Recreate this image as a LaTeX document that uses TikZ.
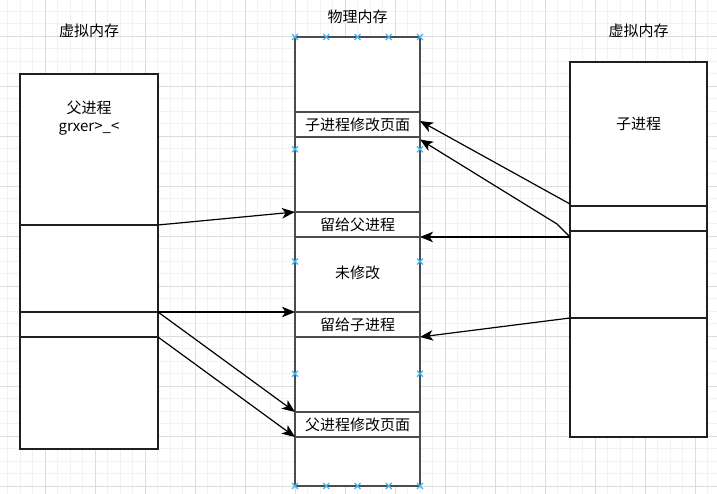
\documentclass[tikz,border=0pt]{standalone}
\usepackage{fontspec}
\setmainfont{Noto Sans CJK SC}
\usetikzlibrary{arrows.meta}
\definecolor{gridminor}{HTML}{F2F2F2}
\definecolor{gridmajor}{HTML}{DCDCDC}
\definecolor{markblue}{HTML}{3FB6EE}
\begin{document}
\begin{tikzpicture}[x=1pt,y=-1pt,
  box/.style={draw=black!88, fill=white, line width=1.1pt, inner sep=0pt, outer sep=0pt, rectangle},
  mbox/.style={draw=black!70, fill=white, line width=1.25pt, inner sep=0pt, outer sep=0pt, rectangle},
  lbl/.style={font=\fontsize{15}{18.5}\selectfont, inner sep=0pt},
  arr/.style={-{Stealth[length=13pt,width=10.5pt,inset=3.5pt]}, line width=1.2pt, draw=black},
  xm/.style={draw=markblue, line width=1.2pt}]
\useasboundingbox (0,0) rectangle (717,494);
\fill[white] (0,0) rectangle (717,494);
% grid
\foreach \i in {0,...,58} \draw[gridminor, line width=0.8pt] ({-5+12.5*\i},0) -- ({-5+12.5*\i},494);
\foreach \i in {0,...,40} \draw[gridminor, line width=0.8pt] (0,{-1.5+12.5*\i}) -- (717,{-1.5+12.5*\i});
\foreach \i in {0,...,15} \draw[gridmajor, line width=0.8pt] ({-5+50*\i},0) -- ({-5+50*\i},494);
\foreach \i in {0,...,10} \draw[gridmajor, line width=0.8pt] (0,{-14+50*\i}) -- (717,{-14+50*\i});

% titles
\node[lbl] (t1) at (89,31) {虚拟内存};
\node[lbl] (t2) at (357.5,17) {物理内存};
\node[lbl] (t3) at (638.5,31) {虚拟内存};

% left box
\node[box, minimum width=138pt, minimum height=375pt] (L) at (89,261.5) {};
\node[box, minimum width=138pt, minimum height=87pt] (LA) at (89,268.5) {};
\node[box, minimum width=138pt, minimum height=25pt] (LB) at (89,324.5) {};
\node[lbl, align=center] (Lt) at (89,118) {父进程\\grxer>\_<};

% middle column
\node[mbox, minimum width=125pt, minimum height=449pt] (M) at (357.5,261.5) {};
\node[mbox, lbl, minimum width=125pt, minimum height=25pt] (r1) at (357.5,124.5) {子进程修改页面};
\node[mbox, lbl, minimum width=125pt, minimum height=25pt] (r2) at (357.5,224.5) {留给父进程};
\node[mbox, lbl, minimum width=125pt, minimum height=25pt] (r3) at (357.5,324.5) {留给子进程};
\node[mbox, lbl, minimum width=125pt, minimum height=25pt] (r4) at (357.5,424.5) {父进程修改页面};
\node[lbl] (um) at (357.5,273) {未修改};

% right box
\node[box, minimum width=137pt, minimum height=375pt] (R) at (638.5,249.5) {};
\node[box, minimum width=137pt, minimum height=25pt] (RA) at (638.5,218.5) {};
\node[box, minimum width=137pt, minimum height=87pt] (RB) at (638.5,274.5) {};
\node[lbl] (Rt) at (638.5,123.5) {子进程};

% connection markers
\foreach \x/\y in {295/37,326.25/37,357.5/37,388.75/37,420/37,
                   295/486,326.25/486,357.5/486,388.75/486,420/486,
                   295/149.25,420/149.25,295/261.5,420/261.5,295/373.75,420/373.75}
  \draw[xm] (\x-3,\y-3) -- (\x+3,\y+3) (\x-3,\y+3) -- (\x+3,\y-3);

% arrows
\draw[arr] (LA.north east) -- (r2.north west);
\draw[arr] (LB.north east) -- (r3.north west);
\draw[arr] (LB.north east) -- (r4.north west);
\draw[arr] (LB.south east) -- (r4.south west);
\coordinate (Rc) at ([yshift=-6pt]RA.south west);
\draw[arr] ([yshift=2pt]RA.north west) -- ([yshift=3.5pt]r1.east);
\draw[arr] (Rc) -- (557,224) -- ([yshift=-2.5pt]r1.south east);
\draw[arr] (Rc) -- (r2.south east);
\draw[arr] (RB.south west) -- (r3.south east);
\end{tikzpicture}
\end{document}
